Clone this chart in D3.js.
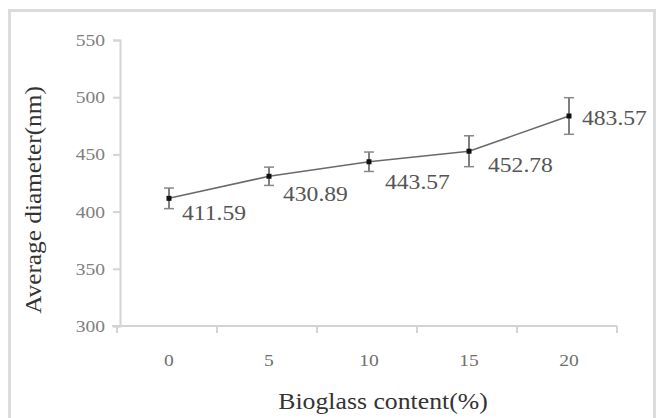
<!DOCTYPE html>
<html>
<head>
<meta charset="utf-8">
<script src="https://cdn.jsdelivr.net/npm/d3@7"></script>
<style>
  body { margin: 0; background: #fff; }
  svg text { font-family: "Liberation Serif", "DejaVu Serif", serif; }
</style>
</head>
<body>
<svg id="chart" width="657" height="418"></svg>
<script>
// data
const contents = ["0", "5", "10", "15", "20"];      // Bioglass content (%)
const diameters = [411.59, 430.89, 443.57, 452.78, 483.57];
const errors = [9, 8, 8.5, 13.5, 16];
const yTicks = [300, 350, 400, 450, 500, 550];

// label offsets from each point (px)
const labelDx = [13, 14, 16, 19, 13];
const labelDy = [15, 18, 20, 14, 2];

var svg = d3.select("#chart");

// frame (open at the bottom)
svg.append("path")
	.attr("d", "M9.5,418 L9.5,10.5 L654.5,10.5 L654.5,418")
	.attr("fill", "none")
	.attr("stroke", "#dcdcdc")
	.attr("stroke-width", 3);

var x = d3.scaleBand().domain(contents).range([117, 617]);
var y = d3.scaleLinear().domain([300, 550]).range([326, 40]);

// y axis
var gy = svg.append("g").attr("transform", "translate(120,0)")
	.call(d3.axisLeft(y).tickValues(yTicks).tickSize(7).tickPadding(0).tickFormat(""));
gy.select(".domain").attr("stroke", "#d4d4d4").attr("stroke-width", 2);
gy.selectAll(".tick line").attr("stroke", "#d4d4d4").attr("stroke-width", 2);

svg.append("g").selectAll("text").data(yTicks).join("text")
	.attr("transform", function(d){ return "translate(105," + y(d) + ") scale(1.15,1)"; })
	.attr("dy", "0.35em")
	.attr("text-anchor", "end")
	.attr("font-size", 17)
	.attr("fill", "#808080")
	.text(function(d){ return d; });

// x axis
var gx = svg.append("g").attr("transform", "translate(0,326)")
	.call(d3.axisBottom(x).tickSize(0).tickFormat(""));
gx.select(".domain").attr("stroke", "#d4d4d4").attr("stroke-width", 2)
	.attr("d", "M112,0H617");
// band boundary ticks
svg.append("g").selectAll("line").data(x.domain().concat(["end"])).join("line")
	.attr("x1", function(d){ return d == "end" ? x.range()[1] : x(d); })
	.attr("x2", function(d){ return d == "end" ? x.range()[1] : x(d); })
	.attr("y1", 326).attr("y2", 333)
	.attr("stroke", "#d4d4d4").attr("stroke-width", 2);

svg.append("g").selectAll("text").data(contents).join("text")
	.attr("transform", function(d){ return "translate(" + (x(d) + x.bandwidth()/2 + 2) + ",360) scale(1.15,1)"; })
	.attr("dy", "0.35em")
	.attr("text-anchor", "middle")
	.attr("font-size", 17)
	.attr("fill", "#707070")
	.text(function(d){ return d; });

// axis titles
svg.append("text")
	.attr("transform", "translate(383,401) scale(1.12,1)")
	.attr("dy", "0.35em")
	.attr("text-anchor", "middle")
	.attr("font-size", 23)
	.attr("fill", "#333")
	.text("Bioglass content(%)");

svg.append("text")
	.attr("transform", "translate(33,200) rotate(-90) scale(1.1,1)")
	.attr("dy", "0.35em")
	.attr("text-anchor", "middle")
	.attr("font-size", 23)
	.attr("fill", "#333")
	.text("Average diameter(nm)");

var pts = contents.map(function(c, i){
	return { c: c, v: diameters[i], e: errors[i], dx: labelDx[i], dy: labelDy[i] };
});
var cx = function(d){ return x(d.c) + x.bandwidth()/2 + 2; };

// connecting line
svg.append("path").datum(pts)
	.attr("fill", "none")
	.attr("stroke", "#6a6a6a")
	.attr("stroke-width", 1.6)
	.attr("d", d3.line().x(cx).y(function(d){ return y(d.v); }));

// error bars
var eb = svg.append("g").selectAll("g").data(pts).join("g");
eb.append("line")
	.attr("x1", cx).attr("x2", cx)
	.attr("y1", function(d){ return y(d.v + d.e); })
	.attr("y2", function(d){ return y(d.v - d.e); })
	.attr("stroke", "#555").attr("stroke-width", 1.5);
eb.append("line")
	.attr("x1", function(d){ return cx(d) - 5; }).attr("x2", function(d){ return cx(d) + 5; })
	.attr("y1", function(d){ return y(d.v + d.e); })
	.attr("y2", function(d){ return y(d.v + d.e); })
	.attr("stroke", "#888").attr("stroke-width", 1.5);
eb.append("line")
	.attr("x1", function(d){ return cx(d) - 5; }).attr("x2", function(d){ return cx(d) + 5; })
	.attr("y1", function(d){ return y(d.v - d.e); })
	.attr("y2", function(d){ return y(d.v - d.e); })
	.attr("stroke", "#888").attr("stroke-width", 1.5);

// markers
svg.append("g").selectAll("rect").data(pts).join("rect")
	.attr("x", function(d){ return cx(d) - 2.5; })
	.attr("y", function(d){ return y(d.v) - 2.5; })
	.attr("width", 5).attr("height", 5)
	.attr("fill", "#111");

// value labels
svg.append("g").selectAll("text").data(pts).join("text")
	.attr("transform", function(d){ return "translate(" + (cx(d) + d.dx) + "," + (y(d.v) + d.dy) + ") scale(1.18,1)"; })
	.attr("dy", "0.35em")
	.attr("font-size", 20)
	.attr("fill", "#555")
	.text(function(d){ return d.v.toFixed(2); });
</script>
</body>
</html>
